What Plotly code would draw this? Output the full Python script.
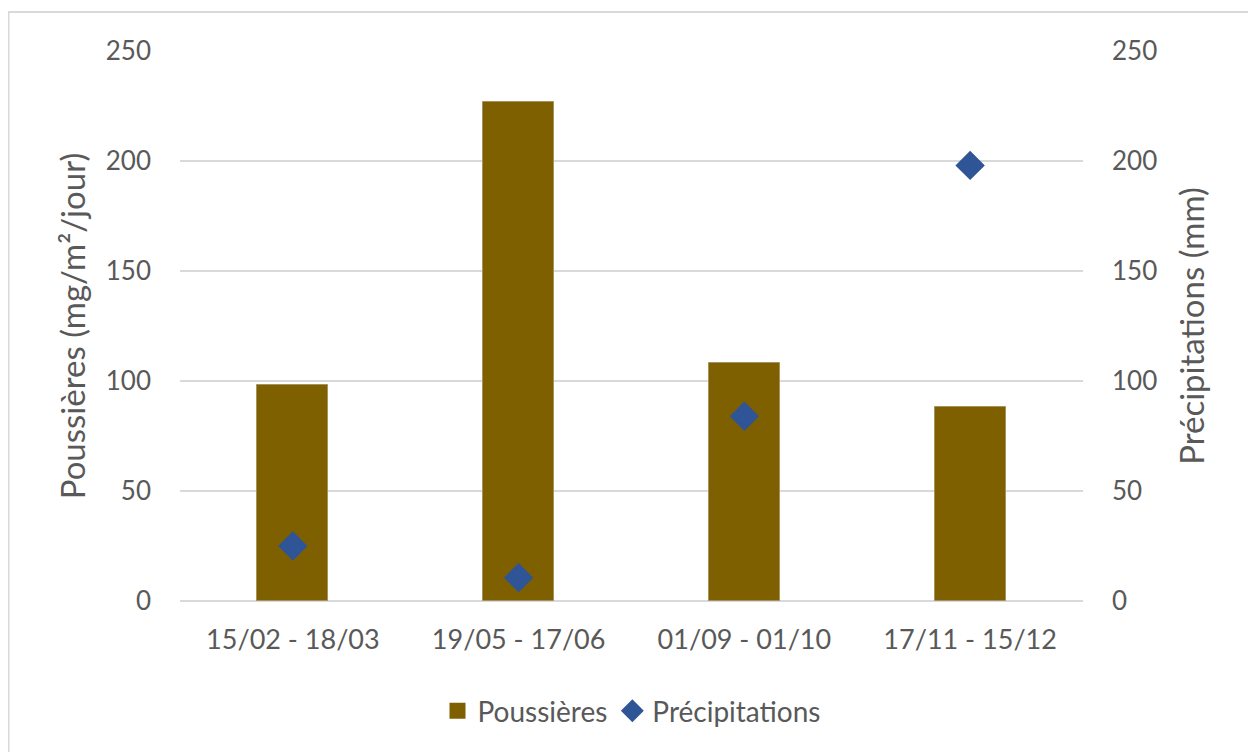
import plotly.graph_objects as go

categories = ["15/02 - 18/03", "19/05 - 17/06", "01/09 - 01/10", "17/11 - 15/12"]
poussieres = [98, 227, 108, 88]
precipitations = [25, 10.6, 84, 198]
y_ticks = [0, 50, 100, 150, 200, 250]

TXT = "#595959"
FONT = "Lato, Calibri, sans-serif"
BAR_COLOR = "#7F6000"
DOT_COLOR = "#2F5597"

fig = go.Figure()
fig.add_trace(go.Bar(
    x=categories, y=poussieres, name="Poussières",
    marker=dict(color=BAR_COLOR, line=dict(color="#A89060", width=1)),
    width=0.315, yaxis="y", showlegend=False, legendgroup="p",
))
# legend proxy with a larger square swatch
fig.add_trace(go.Scatter(
    x=[None], y=[None], name="Poussières", mode="markers", legendgroup="p",
    marker=dict(symbol="square", size=18, color=BAR_COLOR), yaxis="y",
))
fig.add_trace(go.Scatter(
    x=categories, y=precipitations, name="Précipitations", mode="markers",
    marker=dict(symbol="diamond", size=21, color=DOT_COLOR,
                line=dict(color=DOT_COLOR, width=1.5)),
    yaxis="y2",
))

fig.update_layout(
    width=1248, height=744,
    margin=dict(l=172, r=173, t=43, b=151),
    paper_bgcolor="white", plot_bgcolor="white",
    font=dict(family=FONT, size=26, color=TXT),
    showlegend=True,
    legend=dict(orientation="h", x=0.5, xanchor="center", y=-0.2, yanchor="middle",
                font=dict(size=28, color=TXT), itemwidth=30, tracegroupgap=0),
    xaxis=dict(showgrid=False, showline=False, ticks="", ticklabelstandoff=20,
               tickfont=dict(size=27, color=TXT)),
    yaxis=dict(range=[0, 250], tickvals=y_ticks, showgrid=True, gridcolor="#D9D9D9",
               gridwidth=1.5, zeroline=True, zerolinecolor="#D9D9D9", zerolinewidth=1.5,
               ticks="", ticklabelstandoff=28, showline=False,
               title=dict(text="Poussières (mg/m²/jour)", font=dict(size=33, color=TXT),
                          standoff=10),
               tickfont=dict(size=26, color=TXT)),
    yaxis2=dict(range=[0, 250], tickvals=y_ticks, overlaying="y", side="right",
                showgrid=False, zeroline=False, ticks="", ticklabelstandoff=28,
                title=dict(text="Précipitations (mm)", font=dict(size=33, color=TXT),
                           standoff=24),
                tickfont=dict(size=26, color=TXT)),
    bargap=0,
)

fig.add_shape(type="rect", xref="paper", yref="paper",
              x0=-0.1899, x1=1.1905, y0=-0.4, y1=1.0709,
              line=dict(color="#D9D9D9", width=2), fillcolor="rgba(0,0,0,0)", layer="below")

fig.write_html("out.html")
